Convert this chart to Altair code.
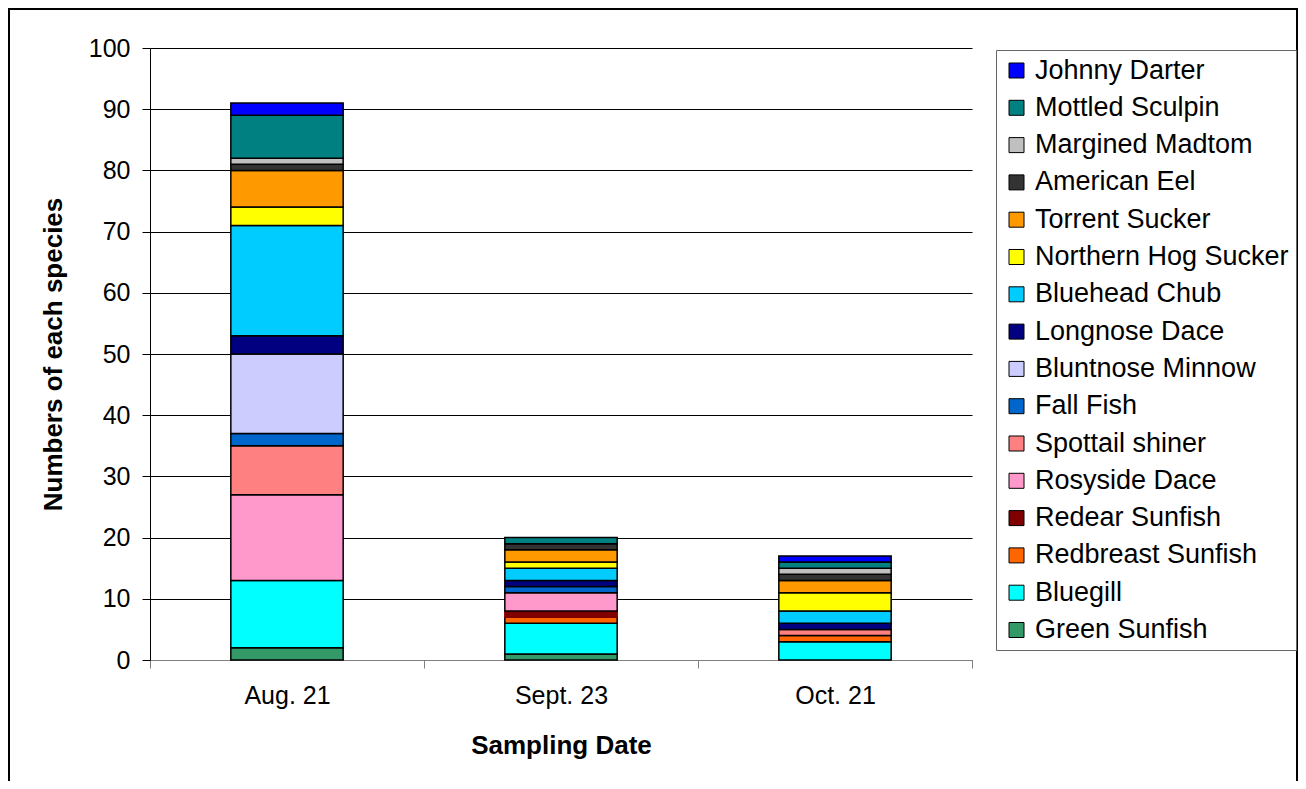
import altair as alt
import pandas as pd

# bottom-to-top stacking order
species = ["Green Sunfish", "Bluegill", "Redbreast Sunfish", "Redear Sunfish",
           "Rosyside Dace", "Spottail shiner", "Fall Fish", "Bluntnose Minnow",
           "Longnose Dace", "Bluehead Chub", "Northern Hog Sucker", "Torrent Sucker",
           "American Eel", "Margined Madtom", "Mottled Sculpin", "Johnny Darter"]
colors = ["#339966", "#00FFFF", "#FF6600", "#800000",
          "#FF99CC", "#FF8080", "#0066CC", "#CCCCFF",
          "#000080", "#00CCFF", "#FFFF00", "#FF9900",
          "#333333", "#C0C0C0", "#008080", "#0000FF"]
dates = ["Aug. 21", "Sept. 23", "Oct. 21"]
aug = [2, 11, 0, 0, 14, 8, 2, 13, 3, 18, 3, 6, 1, 1, 7, 2]
sept = [1, 5, 1, 1, 3, 0, 1, 0, 1, 2, 1, 2, 1, 0, 1, 0]
octo = [0, 3, 1, 0, 0, 1, 0, 0, 1, 2, 3, 2, 1, 1, 1, 1]

rows = []
for d, vals in zip(dates, [aug, sept, octo]):
    for i, (s, v) in enumerate(zip(species, vals)):
        if v > 0:
            rows.append({"date": d, "species": s, "count": v, "order": i})
df = pd.DataFrame(rows)

FONT = "Liberation Sans"

bars = alt.Chart(df).mark_bar(
    width=alt.RelativeBandSize(0.41), strokeWidth=1.5
).encode(
    x=alt.X("date:N", sort=dates, title="Sampling Date",
            scale=alt.Scale(paddingInner=0, paddingOuter=0),
            axis=alt.Axis(labelAngle=0, tickBand="extent", tickSize=8,
                          tickColor="#808080", domainColor="#808080",
                          labelFontSize=25, labelPadding=15, labelColor="black",
                          titleFontSize=26, titleFontWeight="bold",
                          titleY=85, titleBaseline="middle", titleColor="black",
                          grid=False)),
    y=alt.Y("count:Q", stack="zero", title="Numbers of each species",
            scale=alt.Scale(domain=[0, 100], nice=False),
            axis=alt.Axis(values=list(range(0, 101, 10)), tickSize=8,
                          tickColor="black", domainColor="black",
                          gridColor="black", gridWidth=1,
                          labelFontSize=25, labelPadding=12, labelColor="black",
                          titleFontSize=26, titleFontWeight="bold", titleColor="black",
                          titleAngle=-90, titleX=-97, titleY=306,
                          titleAlign="center", titleBaseline="middle")),
    color=alt.Color("species:N",
                    scale=alt.Scale(domain=species[::-1], range=colors[::-1]),
                    legend=alt.Legend(title=None, orient="none", legendX=846, legendY=2,
                                      strokeColor="#666666", fillColor="white", padding=7,
                                      labelFontSize=27, labelFont=FONT, labelColor="black",
                                      symbolType="square", symbolSize=225,
                                      symbolStrokeColor="black", symbolStrokeWidth=1,
                                      symbolOffset=0, labelOffset=5, rowPadding=9.3,
                                      labelLimit=400)),
    order=alt.Order("order:Q", sort="ascending"),
    stroke=alt.condition("datum.species == 'Redear Sunfish'",
                         alt.value("#800000"), alt.value("black")),
)

frame = alt.Chart(alt.Data(values=[{"a": 1}])).mark_rect(
    filled=False, stroke="black", strokeWidth=2, clip=False
).encode(
    x=alt.value(-141), x2=alt.value(1147), y=alt.value(-39), y2=alt.value(800)
)

chart = alt.layer(bars, frame).properties(
    width=822, height=612,
    autosize=alt.AutoSizeParams(type="none"),
    padding={"left": 142, "top": 40, "right": 326, "bottom": 121},
).configure(
    font=FONT,
).configure_view(
    stroke=None
)

chart.save("out.html", embed_options={"renderer": "svg", "actions": False})
